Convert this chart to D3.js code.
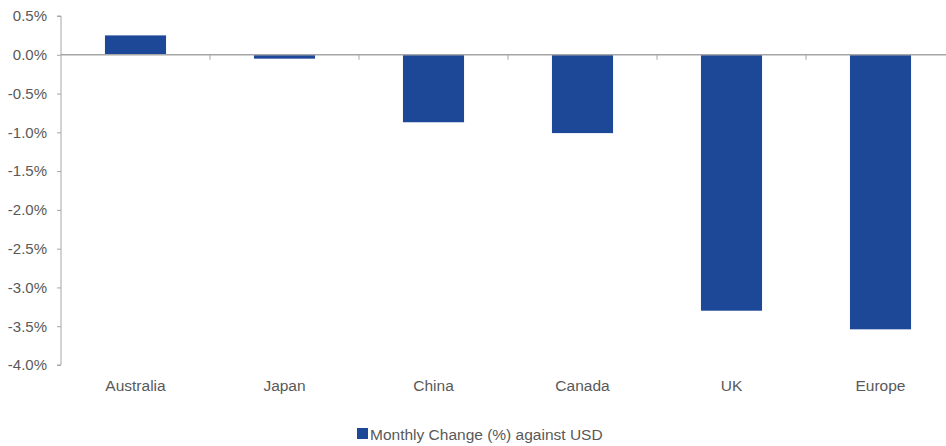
<!DOCTYPE html>
<html>
<head>
<meta charset="utf-8">
<script src="https://cdn.jsdelivr.net/npm/d3@7"></script>
<style>
  body { margin: 0; background: #fff; }
  svg { display: block; font-family: "Liberation Sans", Arial, sans-serif; }
</style>
</head>
<body>
<svg id="chart" width="946" height="446"></svg>
<script>
const categories = ["Australia", "Japan", "China", "Canada", "UK", "Europe"]
const monthlyChange = [0.25, -0.05, -0.87, -1.01, -3.30, -3.54]
const yTicks = [0.5, 0, -0.5, -1, -1.5, -2, -2.5, -3, -3.5, -4]
const seriesName = "Monthly Change (%) against USD"

const barColor = "#1d4797"
const axisColor = "#a6a6a6"
const textColor = "#595959"

var svg = d3.select("#chart")
var plotLeft = 61, plotRight = 955, plotTop = 16, plotBottom = 365

var x = d3.scaleBand()
    .domain(categories)
    .range([plotLeft, plotRight])
    .paddingInner(0.59)
    .paddingOuter(0.295)

var y = d3.scaleLinear()
    .domain([-4, 0.5])
    .range([plotBottom, plotTop])

// plain hyphen for negatives, like the original
var fmt = d => (d < 0 ? "-" : "") + Math.abs(d).toFixed(1) + "%"

// bars
svg.append("g").selectAll("rect")
    .data(categories)
    .enter().append("rect")
    .attr("x", d => x(d))
    .attr("width", x.bandwidth())
    .attr("y", (d, i) => y(Math.max(0, monthlyChange[i])))
    .attr("height", (d, i) => Math.abs(y(monthlyChange[i]) - y(0)))
    .attr("fill", barColor)

// y axis
var yAxis = d3.axisLeft(y)
    .tickValues(yTicks)
    .tickSize(4)
    .tickPadding(10)
    .tickFormat(fmt)

var gy = svg.append("g")
    .attr("transform", "translate(" + plotLeft + ",0)")
    .call(yAxis)
gy.select(".domain").attr("stroke", axisColor).attr("d", "M-4," + plotTop + "H0V" + plotBottom + "H-4")
gy.selectAll(".tick line").attr("stroke", axisColor)
gy.selectAll(".tick text").attr("fill", textColor).style("font-size", "15px")

// zero line with category boundary ticks
var gx = svg.append("g").attr("transform", "translate(0," + y(0) + ")")
gx.append("line")
    .attr("x1", plotLeft).attr("x2", plotRight)
    .attr("stroke", axisColor).attr("stroke-width", 1.5)
var step = x.step()
gx.selectAll(".sep")
    .data(categories.slice(1))
    .enter().append("line")
    .attr("x1", d => x(d) - (step - x.bandwidth()) / 2)
    .attr("x2", d => x(d) - (step - x.bandwidth()) / 2)
    .attr("y1", 0).attr("y2", 5)
    .attr("stroke", axisColor)

// category labels
svg.append("g").selectAll("text")
    .data(categories)
    .enter().append("text")
    .attr("x", d => x(d) + x.bandwidth() / 2)
    .attr("y", 391)
    .attr("text-anchor", "middle")
    .attr("fill", textColor)
    .style("font-size", "15.5px")
    .text(d => d)

// legend
var lg = svg.append("g").attr("transform", "translate(357,428)")
lg.append("rect").attr("width", 11).attr("height", 11).attr("fill", barColor)
lg.append("text")
    .attr("x", 13).attr("y", 12)
    .attr("fill", textColor)
    .style("font-size", "15.5px")
    .text(seriesName)
</script>
</body>
</html>
